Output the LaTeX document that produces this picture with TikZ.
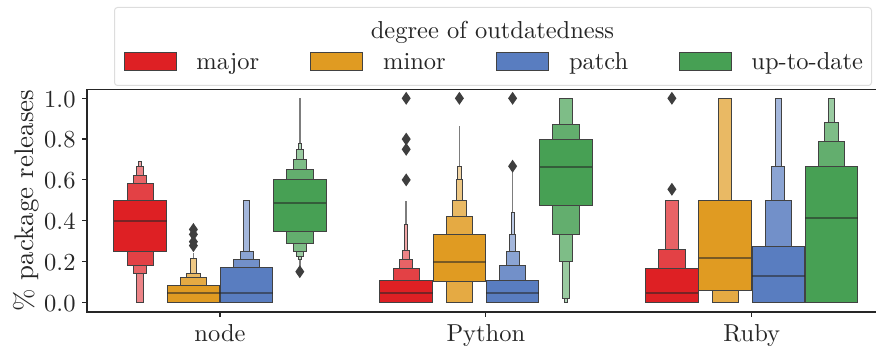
\documentclass[tikz,border=0pt]{standalone}
\definecolor{cmaj}{RGB}{222,32,36}
\definecolor{cmin}{RGB}{224,155,34}
\definecolor{cpat}{RGB}{89,125,192}
\definecolor{cupd}{RGB}{71,160,84}
\definecolor{edgegray}{RGB}{66,66,66}
\definecolor{spinecol}{RGB}{38,38,38}
\definecolor{whiskgray}{RGB}{125,125,125}
\definecolor{outcol}{RGB}{62,62,62}
\definecolor{legedge}{RGB}{221,221,221}
\tikzset{
  lbl/.style={scale=2.45, inner sep=0pt, text=spinecol},
  boxedge/.style={draw=edgegray, line width=0.9pt},
  med/.style={draw=black!85, draw opacity=0.55, line width=2.2pt},
  whiskline/.style={draw=whiskgray, line width=1.5pt},
  spinestyle/.style={draw=spinecol, line width=1.5pt},
  tickstyle/.style={draw=spinecol, line width=1.2pt},
  legframe/.style={draw=legedge, line width=1pt, fill=white, rounded corners=3pt},
  legpatch/.style={draw=edgegray, line width=0.9pt},
}
\newcommand{\drawboxen}[4]{%
  \foreach \lv/\lo/\hi in {#4}{%
    \pgfmathsetmacro{\hw}{26.3/(2^\lv)}%
    \pgfmathtruncatemacro{\mx}{100-15*\lv}%
    \filldraw[boxedge, fill=#2!\mx!white] ({#1-\hw},{302.3-204*\lo}) rectangle ({#1+\hw},{302.3-204*\hi});
  }%
  \draw[med] ({#1-26.3},{302.3-204*#3}) -- ({#1+26.3},{302.3-204*#3});
}
\newcommand{\whisk}[3]{\draw[whiskline] (#1,{302.3-204*#2}) -- (#1,{302.3-204*#3});}
\newcommand{\outl}[2]{\fill[outcol] (#1,{302.3-204*#2-6.5}) -- ({#1+4.5},{302.3-204*#2}) -- (#1,{302.3-204*#2+6.5}) -- ({#1-4.5},{302.3-204*#2}) -- cycle;}
\begin{document}
\begin{tikzpicture}[x=1pt,y=-1pt]
\useasboundingbox (0,0) rectangle (876,347);
% legend
\draw[legframe] (114.5,7.5) rectangle (871.5,85.5);
\node[lbl, anchor=base] (legtitle) at (492.5,38.5) {degree of outdatedness};
\filldraw[legpatch, fill=cmaj] (124,52.7) rectangle (176,70.7);
\filldraw[legpatch, fill=cmin] (310.6,52.7) rectangle (362.6,70.7);
\filldraw[legpatch, fill=cpat] (496.6,52.7) rectangle (548.6,70.7);
\filldraw[legpatch, fill=cupd] (679,52.7) rectangle (731,70.7);
\node[lbl, anchor=base west] (lmaj) at (196,70) {major};
\node[lbl, anchor=base west] (lmin) at (382.6,70) {minor};
\node[lbl, anchor=base west] (lpat) at (568.6,70) {patch};
\node[lbl, anchor=base west] (lupd) at (751,70) {up-to-date};
% whisker lines
\whisk{193.4}{0.0}{0.24}
\whisk{299.8}{0.175}{1.0}
\whisk{406.2}{0.0}{0.498}
\whisk{459.4}{0.0}{0.866}
\whisk{512.6}{0.0}{0.657}
% node
\drawboxen{140.2}{cmaj}{0.40}{4/0/0.691, 3/0/0.665, 2/0.142/0.623, 1/0.180/0.582, 0/0.248/0.498}
\drawboxen{193.4}{cmin}{0.044}{3/0/0.216, 2/0/0.142, 1/0/0.123, 0/0/0.082}
\drawboxen{246.6}{cpat}{0.044}{3/0/0.498, 2/0/0.248, 1/0/0.208, 0/0/0.172}
\drawboxen{299.8}{cupd}{0.485}{4/0.208/0.779, 3/0.227/0.747, 2/0.248/0.698, 1/0.289/0.652, 0/0.346/0.600}
% Python
\drawboxen{406.2}{cmaj}{0.044}{4/0/0.384, 3/0/0.255, 2/0/0.209, 1/0/0.165, 0/0/0.108}
\drawboxen{459.4}{cmin}{0.199}{4/0/0.667, 3/0/0.600, 2/0/0.498, 1/0/0.422, 0/0.103/0.332}
\drawboxen{512.6}{cpat}{0.047}{4/0/0.441, 3/0/0.333, 2/0/0.250, 1/0/0.181, 0/0/0.109}
\drawboxen{565.8}{cupd}{0.663}{4/0/1.0, 3/0.02/1.0, 2/0.198/1.0, 1/0.332/0.874, 0/0.475/0.799}
% Ruby
\drawboxen{671.9}{cmaj}{0.044}{2/0/0.498, 1/0/0.257, 0/0/0.165}
\drawboxen{725.1}{cmin}{0.219}{2/0/1.0, 1/0/0.5, 0/0.056/0.498}
\drawboxen{778.3}{cpat}{0.127}{3/0/1.0, 2/0/0.665, 1/0/0.498, 0/0/0.273}
\drawboxen{831.5}{cupd}{0.412}{3/0/1.0, 2/0/0.882, 1/0/0.788, 0/0/0.665}
% outliers
\outl{193.4}{0.357}\outl{193.4}{0.333}\outl{193.4}{0.297}\outl{193.4}{0.278}
\outl{299.8}{0.150}
\outl{406.2}{1.0}\outl{406.2}{0.80}\outl{406.2}{0.75}\outl{406.2}{0.60}
\outl{459.4}{1.0}
\outl{512.6}{1.0}\outl{512.6}{0.667}
\outl{671.9}{1.0}\outl{671.9}{0.554}
% spines
\draw[spinestyle] (876,89.3) -- (87,89.3) -- (87,312) -- (876,312);
% y ticks
\foreach \v/\t in {0/0.0, 0.2/0.2, 0.4/0.4, 0.6/0.6, 0.8/0.8, 1.0/1.0}{
  \draw[tickstyle] (82,{302.3-204*\v}) -- (87,{302.3-204*\v});
  \node[lbl, anchor=east] (ytick\t) at (76,{303.3-204*\v}) {\t};
}
% x ticks
\draw[tickstyle] (220,312) -- (220,317);
\draw[tickstyle] (485.85,312) -- (485.85,317);
\draw[tickstyle] (751.7,312) -- (751.7,317);
\node[lbl, anchor=base] (xnode) at (220,342) {node};
\node[lbl, anchor=base] (xpy) at (485.85,342) {Python};
\node[lbl, anchor=base] (xrb) at (751.7,342) {Ruby};
% y label
\node[lbl, scale=1.1, rotate=90, anchor=base] (ylab) at (33,200.5) {\% package releases};
\end{tikzpicture}
\end{document}
